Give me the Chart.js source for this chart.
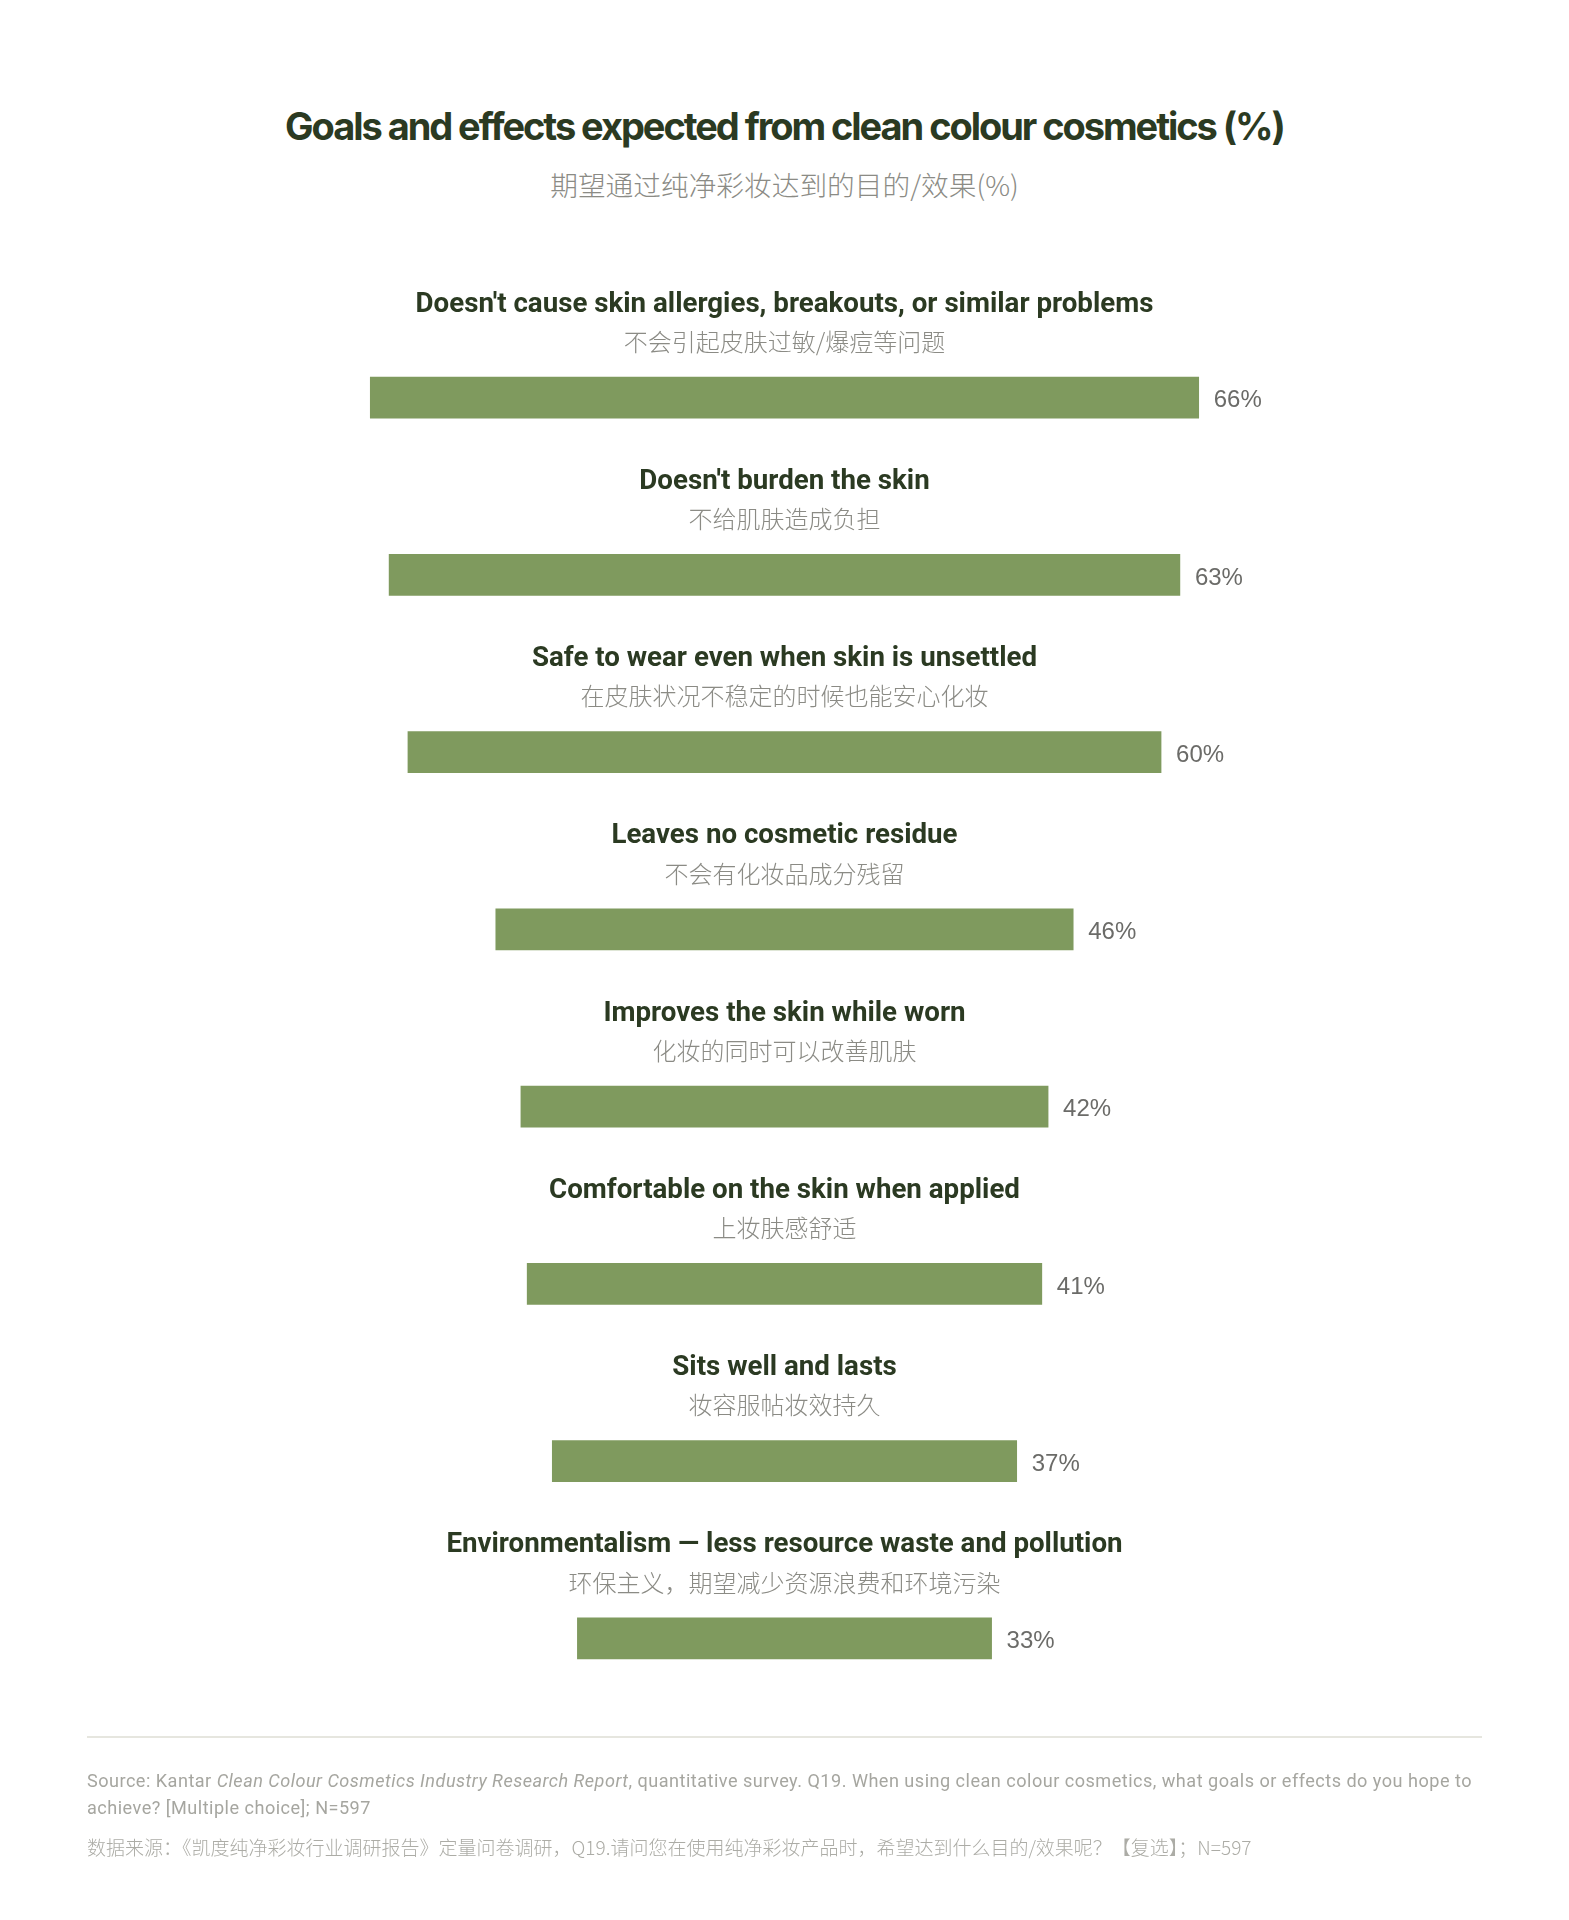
<!DOCTYPE html>
<html><head><meta charset="utf-8">
<script src="https://cdn.jsdelivr.net/npm/chart.js@4.4.1/dist/chart.umd.min.js"></script>
<style>
html,body{margin:0;padding:0;background:#fff;}
body{width:1569px;height:1920px;position:relative;overflow:hidden;}
#c{position:absolute;left:0;top:0;}
.title{position:absolute;left:0;width:1569px;top:104px;line-height:44px;text-align:center;font-family:Inter,"Liberation Sans",sans-serif;font-weight:700;font-size:38px;letter-spacing:-2.05px;color:#2b3a22;}
.sub{position:absolute;left:0;width:1569px;top:166px;line-height:36px;text-align:center;font-family:"Noto Sans CJK SC",sans-serif;font-weight:300;font-size:27.7px;color:#8b8b85;}
.rule{position:absolute;left:87px;width:1395px;top:1736px;height:2px;background:#e6e6df;}
.foot{position:absolute;left:87px;width:1400px;top:1767px;font-family:Roboto,"Liberation Sans",sans-serif;font-size:18.1px;letter-spacing:0.48px;line-height:27px;color:#a6a6a0;}
.foot i{font-style:italic;}
.footcn{position:absolute;left:87px;width:1400px;top:1833px;font-family:"Noto Sans CJK SC",sans-serif;font-weight:300;font-size:19px;line-height:27px;color:#acaca6;}
</style></head>
<body>
<div class="title">Goals and effects expected from clean colour cosmetics (%)</div>
<div class="sub">期望通过纯净彩妆达到的目的/效果(%)</div>
<canvas id="c" width="1569" height="1920"></canvas>
<div class="rule"></div>
<div class="foot">Source: Kantar <i>Clean Colour Cosmetics Industry Research Report</i>, quantitative survey. Q19. When using clean colour cosmetics, what goals or effects do you hope to achieve? [Multiple choice]; N=597</div>
<div class="footcn">数据来源：《凯度纯净彩妆行业调研报告》定量问卷调研，Q19.请问您在使用纯净彩妆产品时，希望达到什么目的/效果呢？【复选】；N=597</div>
<script>
const categoriesEn = [
  "Doesn't cause skin allergies, breakouts, or similar problems",
  "Doesn't burden the skin",
  "Safe to wear even when skin is unsettled",
  "Leaves no cosmetic residue",
  "Improves the skin while worn",
  "Comfortable on the skin when applied",
  "Sits well and lasts",
  "Environmentalism — less resource waste and pollution"
];
const categoriesZh = [
  "不会引起皮肤过敏/爆痘等问题",
  "不给肌肤造成负担",
  "在皮肤状况不稳定的时候也能安心化妆",
  "不会有化妆品成分残留",
  "化妆的同时可以改善肌肤",
  "上妆肤感舒适",
  "妆容服帖妆效持久",
  "环保主义，期望减少资源浪费和环境污染"
];
const values = [66, 63, 60, 46, 42, 41, 37, 33];

const labelPlugin = {
  id: 'labels',
  afterDatasetsDraw(chart) {
    const ctx = chart.ctx;
    const xs = chart.scales.x, ys = chart.scales.y;
    const cx = xs.getPixelForValue(0);
    ctx.save();
    values.forEach((v, i) => {
      const y = ys.getPixelForValue(i);
      ctx.textAlign = 'center';
      ctx.textBaseline = 'middle';
      ctx.fillStyle = '#2b3a22';
      ctx.font = 'bold 27.7px Roboto, "Liberation Sans", sans-serif';
      ctx.fillText(categoriesEn[i], cx, y - 93);
      ctx.fillStyle = '#8b8b85';
      ctx.font = '300 24px "Noto Sans CJK SC", sans-serif';
      ctx.fillText(categoriesZh[i], cx, y - 56);
      ctx.textAlign = 'left';
      ctx.fillStyle = '#6b6b68';
      ctx.font = '24px "Liberation Sans", sans-serif';
      ctx.fillText(v + '%', xs.getPixelForValue(v / 2) + 15, y + 3);
    });
    ctx.restore();
  }
};

new Chart(document.getElementById('c'), {
  type: 'bar',
  data: {
    labels: categoriesEn,
    datasets: [{
      data: values.map(v => [-v / 2, v / 2]),
      backgroundColor: '#7f9a5e',
      borderWidth: 0,
      borderSkipped: false,
      barThickness: 41
    }]
  },
  options: {
    indexAxis: 'y',
    responsive: false,
    animation: false,
    devicePixelRatio: 1,
    layout: { padding: { top: 309, bottom: 193, left: 0, right: 0 } },
    scales: {
      x: { display: false, min: -62.5, max: 62.5 },
      y: { display: false }
    },
    plugins: { legend: { display: false }, tooltip: { enabled: false } }
  },
  plugins: [labelPlugin]
});
</script>
</body></html>
